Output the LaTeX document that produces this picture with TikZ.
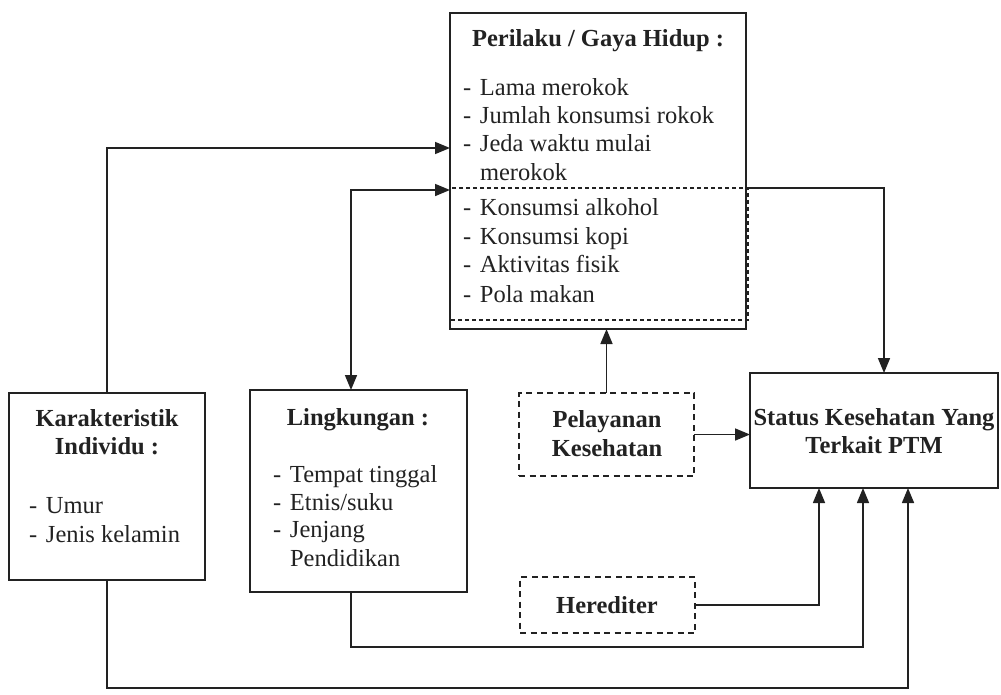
\documentclass[tikz,border=0pt]{standalone}
\usepackage{fontspec}
\setmainfont{Liberation Serif}
\usetikzlibrary{arrows.meta,calc}
\definecolor{ink}{HTML}{222222}
\newcommand\itm{\makebox[17pt][l]{-}}
\begin{document}
\begin{tikzpicture}[x=1pt,y=-1pt,
  every node/.style={inner sep=0pt, outer sep=0pt, text=ink, font=\fontsize{24.5}{28.5}\selectfont},
  box/.style={draw=ink, line width=1.7pt, rectangle, anchor=north west},
  dbox/.style={draw=ink, line width=1.6pt, rectangle, anchor=north west, dash pattern=on 6pt off 4.5pt},
  ttl/.style={anchor=base, font=\fontsize{24.5}{28.5}\selectfont\bfseries},
  itx/.style={anchor=base west},
  conn/.style={draw=ink, line width=1.6pt},
  arr/.style={conn, -{Triangle[length=15pt,width=12pt]}},
  darr/.style={conn, {Triangle[length=15pt,width=12pt]}-{Triangle[length=15pt,width=12pt]}},
]
\useasboundingbox (0,0) rectangle (1001,694);

% boxes
\node[box, minimum width=296pt, minimum height=316pt] (per) at (450,13) {};
\node[box, minimum width=196pt, minimum height=187pt] (kar) at (9,393) {};
\node[box, minimum width=217pt, minimum height=202pt] (lin) at (250,390) {};
\node[dbox, minimum width=175pt, minimum height=83pt] (pel) at (519,393) {};
\node[box, minimum width=248pt, minimum height=115pt] (sta) at (750,373) {};
\node[dbox, minimum width=175pt, minimum height=56pt] (her) at (520,577) {};

% inner dashed part of Perilaku
\draw[draw=ink, line width=1.2pt, dash pattern=on 4pt off 3pt] (450,188) rectangle (748,320);

% texts
\node[ttl] (tper) at (598,46) {Perilaku / Gaya Hidup :};
\node[itx] (p1) at (463,95) {\itm Lama merokok};
\node[itx] (p2) at (463,123) {\itm Jumlah konsumsi rokok};
\node[itx] (p3) at (463,151) {\itm Jeda waktu mulai};
\node[itx] (p4) at (480,180) {merokok};
\node[itx] (p5) at (463,215) {\itm Konsumsi alkohol};
\node[itx] (p6) at (463,244) {\itm Konsumsi kopi};
\node[itx] (p7) at (463,272) {\itm Aktivitas fisik};
\node[itx] (p8) at (463,302) {\itm Pola makan};

\node[ttl] (tkar1) at (107,426) {Karakteristik};
\node[ttl] (tkar2) at (107,454) {Individu :};
\node[itx] (k1t) at (29,513) {\itm Umur};
\node[itx] (k2t) at (29,542) {\itm Jenis kelamin};

\node[ttl] (tlin) at (358,425) {Lingkungan :};
\node[itx] (l1t) at (273,482) {\itm Tempat tinggal};
\node[itx] (l2t) at (273,510) {\itm Etnis/suku};
\node[itx] (l3t) at (273,537) {\itm Jenjang};
\node[itx] (l4t) at (290,566) {Pendidikan};

\node[ttl] (tpel1) at (607,427) {Pelayanan};
\node[ttl] (tpel2) at (607,456) {Kesehatan};

\node[ttl] (tsta1) at (874,425) {Status Kesehatan Yang};
\node[ttl] (tsta2) at (874,453) {Terkait PTM};

\node[ttl] (ther) at (607,613) {Herediter};

% connector helper coordinates
\coordinate (a1) at (450,148);
\coordinate (a2) at (450,190);
\coordinate (lx) at (351,0);
\coordinate (pr) at (746,188);
\coordinate (rx) at (884,0);
\coordinate (h1) at (819,0);
\coordinate (l1) at (863,647);
\coordinate (k1) at (908,688);

% connectors
\draw[arr] (kar.north) |- (a1);
\draw[darr] (lin.north -| lx) |- (a2);
\draw[arr] (pr) -| (sta.north -| rx);
\draw[arr] (pel.north) -- (pel.north |- per.south);
\draw[arr] (pel.east) -- (pel.east -| sta.west);
\draw[arr] (her.east) -| (sta.south -| h1);
\draw[arr] (lin.south -| lx) |- (l1) -- (l1 |- sta.south);
\draw[arr] (kar.south) |- (k1) -- (k1 |- sta.south);
\end{tikzpicture}
\end{document}
